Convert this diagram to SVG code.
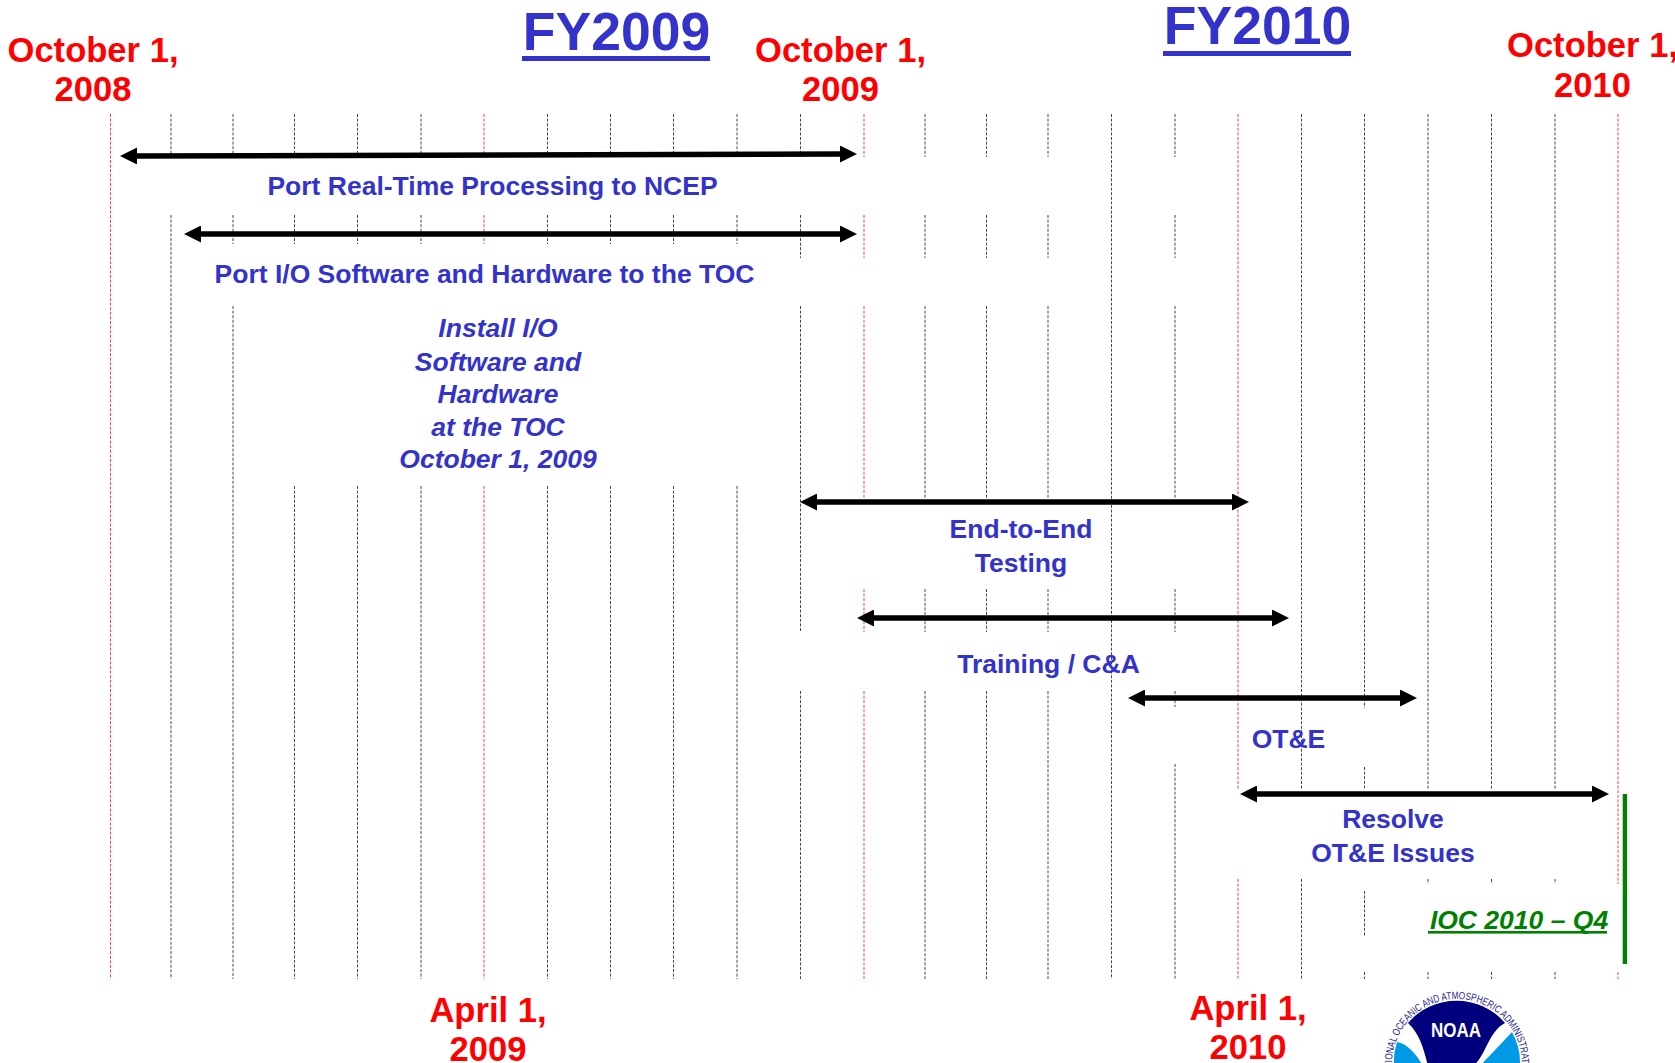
<svg xmlns="http://www.w3.org/2000/svg" width="1675" height="1063" viewBox="0 0 1675 1063">
<style>
text{font-family:"Liberation Sans",Arial,sans-serif;font-weight:bold;text-anchor:middle}
.g{fill:none;stroke:#000;stroke-width:.9;stroke-dasharray:3 1.6;opacity:.8}
.r{fill:none;stroke:#f00;stroke-width:1;stroke-dasharray:3 1.6;opacity:.75}
.a{stroke:#000;stroke-width:5.5;fill:none;marker-start:url(#h);marker-end:url(#h)}
.d{fill:#f00;font-size:34.6px}
.b{fill:#33c;font-size:26.5px}
.i{font-style:italic}
.t{fill:#33c;font-size:53.5px}
</style>
<defs>
<marker id="h" markerUnits="userSpaceOnUse" markerWidth="17" markerHeight="17" refX="6" refY="8.5" orient="auto-start-reverse"><path d="M0,0L17,8.5L0,17Z" fill="#000"/></marker>
<path id="ring" d="M1457,1129A65,65 0 0 1 1457,999A65,65 0 0 1 1457,1129"/>
</defs>
<rect width="1675" height="1063" fill="#fff"/>
<g id="grid">
<path class="r" d="M110.5 114V979"/>
<path class="g" d="M171 114V157M171 215V979"/>
<path class="g" d="M233 114V157M233 215V244M233 306V979"/>
<path class="g" d="M294.5 114V157M294.5 215V244M294.5 486V979"/>
<path class="g" d="M357.5 114V157M357.5 215V244M357.5 486V979"/>
<path class="g" d="M421 114V157M421 215V244M421 486V979"/>
<path class="r" d="M484 114V157M484 215V244M484 486V979"/>
<path class="g" d="M547.5 114V157M547.5 215V244M547.5 486V979"/>
<path class="g" d="M610.5 114V157M610.5 215V244M610.5 486V979"/>
<path class="g" d="M673.5 114V157M673.5 215V244M673.5 486V979"/>
<path class="g" d="M737 114V157M737 215V244M737 486V979"/>
<path class="g" d="M800.5 114V157M800.5 215V258M800.5 306V632M800.5 691V979"/>
<path class="r" d="M864 114V157M864 215V258M864 306V499M864 589V632M864 691V979"/>
<path class="g" d="M925 114V157M925 215V258M925 306V499M925 589V632M925 691V979"/>
<path class="g" d="M986.5 114V157M986.5 215V258M986.5 306V499M986.5 589V632M986.5 691V979"/>
<path class="g" d="M1048 114V157M1048 215V258M1048 306V499M1048 589V632M1048 691V979"/>
<path class="g" d="M1111.5 114V979"/>
<path class="g" d="M1175 114V157M1175 215V258M1175 306V499M1175 589V632M1175 691V707M1175 764V979"/>
<path class="r" d="M1238 114V789M1238 879V979"/>
<path class="g" d="M1301.5 114V789M1301.5 879V979"/>
<path class="g" d="M1364.5 114V708M1364.5 767V789M1364.5 891V937M1364.5 972V979"/>
<path class="g" d="M1428 114V789M1428 879V884M1428 972V979"/>
<path class="g" d="M1491.5 114V789M1491.5 879V884M1491.5 972V979"/>
<path class="g" d="M1555 114V789M1555 879V884M1555 972V979"/>
<path class="r" d="M1618 114V884M1618 972V979"/>
</g>
<g id="connectors">
<path class="a" d="M131 156L846 154"/>
<path class="a" d="M195 234L846 234"/>
<path class="a" d="M811 502L1238 502"/>
<path class="a" d="M868 618L1278 618"/>
<path class="a" d="M1139 698L1406 698"/>
<path class="a" d="M1251 794L1598 794"/>
</g>
<g id="date-oct-2008"><text class="d" x="93" y="62">October 1,</text><text class="d" x="93" y="101">2008</text></g>
<g id="date-oct-2009"><text class="d" x="840.5" y="62">October 1,</text><text class="d" x="840.5" y="101">2009</text></g>
<g id="date-oct-2010"><text class="d" x="1592.5" y="57">October 1,</text><text class="d" x="1592.5" y="97">2010</text></g>
<g id="date-apr-2009"><text class="d" x="488" y="1022">April 1,</text><text class="d" x="488" y="1061">2009</text></g>
<g id="date-apr-2010"><text class="d" x="1248" y="1020">April 1,</text><text class="d" x="1248" y="1059">2010</text></g>
<g id="fy2009"><text class="t" x="616.5" y="50">FY2009</text><rect x="522" y="56" width="188" height="5" fill="#33c"/></g>
<g id="fy2010"><text class="t" x="1257.5" y="44">FY2010</text><rect x="1163" y="51" width="188" height="5" fill="#33c"/></g>
<g id="port-rt"><text class="b" x="492.5" y="195">Port Real-Time Processing to NCEP</text></g>
<g id="port-io"><text class="b" x="484.5" y="283">Port I/O Software and Hardware to the TOC</text></g>
<g id="install"><text class="b i" x="498" y="337">Install I/O</text><text class="b i" x="498" y="371">Software and</text><text class="b i" x="498" y="403">Hardware</text><text class="b i" x="498" y="436">at the TOC</text><text class="b i" x="498" y="468">October 1, 2009</text></g>
<g id="e2e"><text class="b" x="1021" y="538">End-to-End</text><text class="b" x="1021" y="572">Testing</text></g>
<g id="training"><text class="b" x="1048.5" y="673">Training / C&amp;A</text></g>
<g id="ote"><text class="b" x="1288.5" y="748">OT&amp;E</text></g>
<g id="resolve"><text class="b" x="1393" y="828">Resolve</text><text class="b" x="1393" y="862">OT&amp;E Issues</text></g>
<g id="ioc"><text class="i" x="1519" y="929" fill="#008000" font-size="26.5">IOC 2010 – Q4</text><rect x="1428" y="931" width="179" height="2.6" fill="#008000"/><rect x="1622.7" y="794" width="4.4" height="170" fill="#008000"/></g>
<g id="noaa-logo">
<path d="M1408,1023A64,64 0 0 1 1505,1023C1488,1032 1486,1056 1473,1066L1428,1066C1424,1050 1420,1034 1408,1023Z" fill="#00007f"/>
<path d="M1397,1042C1408,1044 1416,1054 1423,1066L1394,1066A63,63 0 0 1 1397,1042Z" fill="#0099e6"/>
<path d="M1512,1032A63,63 0 0 1 1520,1066L1480,1066C1490,1055 1500,1045 1512,1032Z" fill="#0099e6"/>
<text x="1456" y="1037" fill="#fff" font-size="20" textLength="50" lengthAdjust="spacingAndGlyphs">NOAA</text>
<text fill="#23238f" font-size="10.5" style="font-weight:normal" textLength="232" lengthAdjust="spacingAndGlyphs"><textPath href="#ring" startOffset="50%">NATIONAL OCEANIC AND ATMOSPHERIC ADMINISTRATION</textPath></text>
</g>
</svg>
